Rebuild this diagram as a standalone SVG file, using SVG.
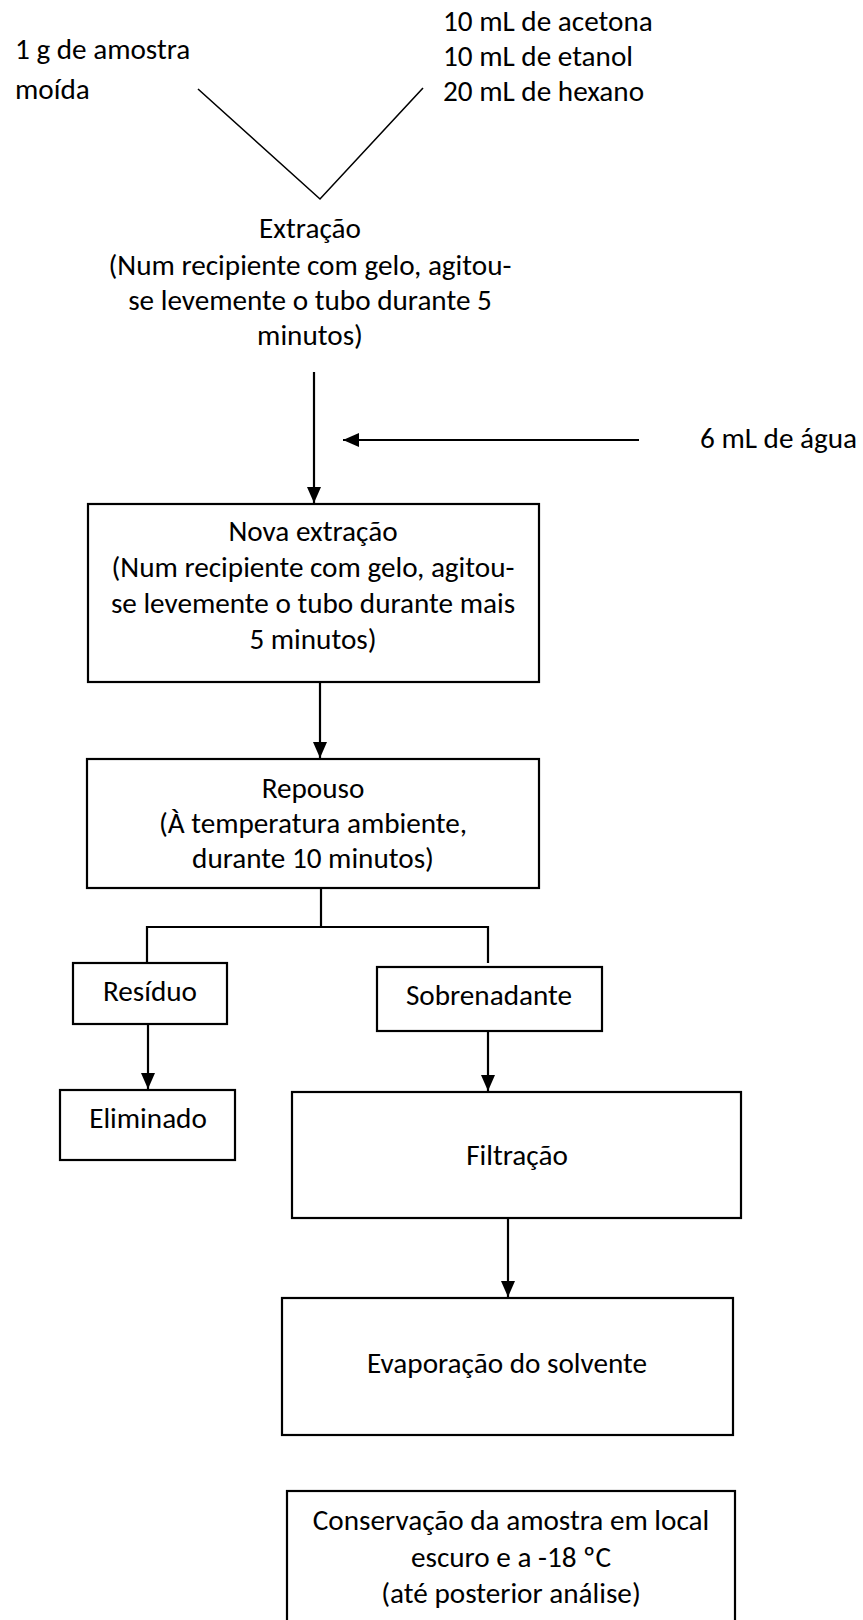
<svg xmlns="http://www.w3.org/2000/svg" width="863" height="1620" viewBox="0 0 863 1620">
  <style>
    text { font-family: "Carlito", "Lato", "Liberation Sans", sans-serif; font-size: 29.2px; fill: #000; }
    .c { text-anchor: middle; }
    .box { fill: #fff; stroke: #000; stroke-width: 2.2; }
    .ln { fill: none; stroke: #000; stroke-width: 2.2; }
    .thin { fill: none; stroke: #000; stroke-width: 1.6; }
    .arr { fill: none; stroke: #000; stroke-width: 2.2; marker-end: url(#head); }
  </style>
  <defs>
    <marker id="head" markerUnits="userSpaceOnUse" markerWidth="16" markerHeight="14" viewBox="0 0 16 14" refX="16" refY="7" orient="auto">
      <path d="M0,0 L16,7 L0,14 Z" fill="#000"/>
    </marker>
  </defs>
  <rect width="863" height="1620" fill="#fff"/>

  <!-- connectors -->
  <g id="connectors">
    <polyline class="thin" points="198,89 320,199 423,88"/>
    <line class="arr" x1="314" y1="372" x2="314" y2="503"/>
    <line class="arr" x1="639" y1="440" x2="343" y2="440"/>
    <line class="arr" x1="320" y1="682" x2="320" y2="758"/>
    <polyline class="ln" points="321,888 321,927"/>
    <polyline class="ln" points="147,963 147,927 488,927 488,963"/>
    <line class="arr" x1="148" y1="1024" x2="148" y2="1089"/>
    <line class="arr" x1="488" y1="1031" x2="488" y2="1091"/>
    <line class="arr" x1="508" y1="1219" x2="508" y2="1297"/>
  </g>

  <!-- inputs -->
  <g id="amostra">
    <text x="15" y="59">1 g de amostra</text>
    <text x="15" y="99">moída</text>
  </g>
  <g id="solventes">
    <text x="443" y="31">10 mL de acetona</text>
    <text x="443" y="66">10 mL de etanol</text>
    <text x="443" y="101">20 mL de hexano</text>
  </g>
  <g id="agua">
    <text x="700" y="448">6 mL de água</text>
  </g>

  <!-- steps -->
  <g id="extracao">
    <text class="c" x="310" y="238">Extração</text>
    <text class="c" x="310" y="275">(Num recipiente com gelo, agitou-</text>
    <text class="c" x="310" y="310">se levemente o tubo durante 5</text>
    <text class="c" x="310" y="345">minutos)</text>
  </g>
  <g id="nova-extracao">
    <rect class="box" x="88" y="504" width="451" height="178"/>
    <text class="c" x="313" y="541">Nova extração</text>
    <text class="c" x="313" y="577">(Num recipiente com gelo, agitou-</text>
    <text class="c" x="313" y="613">se levemente o tubo durante mais</text>
    <text class="c" x="313" y="649">5 minutos)</text>
  </g>
  <g id="repouso">
    <rect class="box" x="87" y="759" width="452" height="129"/>
    <text class="c" x="313" y="798">Repouso</text>
    <text class="c" x="313" y="833">(À temperatura ambiente,</text>
    <text class="c" x="313" y="868">durante 10 minutos)</text>
  </g>
  <g id="residuo">
    <rect class="box" x="73" y="963" width="154" height="61"/>
    <text class="c" x="150" y="1001">Resíduo</text>
  </g>
  <g id="eliminado">
    <rect class="box" x="60" y="1090" width="175" height="70"/>
    <text class="c" x="148" y="1128">Eliminado</text>
  </g>
  <g id="sobrenadante">
    <rect class="box" x="377" y="967" width="225" height="64"/>
    <text class="c" x="489" y="1005">Sobrenadante</text>
  </g>
  <g id="filtracao">
    <rect class="box" x="292" y="1092" width="449" height="126"/>
    <text class="c" x="517" y="1165">Filtração</text>
  </g>
  <g id="evaporacao">
    <rect class="box" x="282" y="1298" width="451" height="137"/>
    <text class="c" x="507" y="1373">Evaporação do solvente</text>
  </g>
  <g id="conservacao">
    <rect class="box" x="287" y="1491" width="448" height="140"/>
    <text class="c" x="511" y="1530">Conservação da amostra em local</text>
    <text class="c" x="511" y="1567">escuro e a -18 ºC</text>
    <text class="c" x="511" y="1603">(até posterior análise)</text>
  </g>
</svg>
